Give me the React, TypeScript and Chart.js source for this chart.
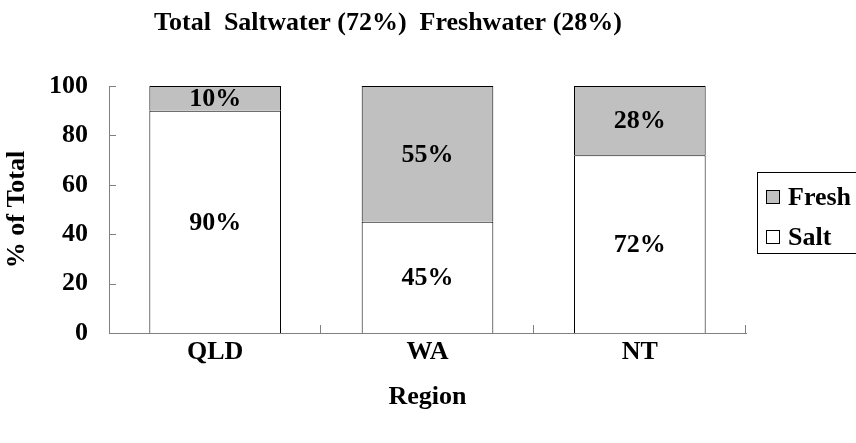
import React, { useEffect, useRef } from "react";
import { Chart, registerables } from "chart.js";

Chart.register(...registerables);

const categories = ["QLD", "WA", "NT"];
const saltValues = [90, 45, 72];
const freshValues = [10, 55, 28];
const yTickValues = [0, 20, 40, 60, 80, 100];
const titleText = "Total  Saltwater (72%)  Freshwater (28%)";
const yAxisTitle = "% of Total";
const xAxisTitle = "Region";
const saltName = "Salt";
const freshName = "Fresh";

const FONT = "'Liberation Serif', 'Times New Roman', serif";
const AXIS_GRAY = "#808080";

const overlayPlugin = {
  id: "overlay",
  afterDatasetsDraw(chart: any) {
    const { ctx, chartArea, scales } = chart;
    const xs = scales.x;
    const ys = scales.y;
    ctx.save();
    // inward tick marks
    ctx.strokeStyle = AXIS_GRAY;
    ctx.lineWidth = 1;
    yTickValues.forEach((v) => {
      const y = Math.round(ys.getPixelForValue(v)) + 0.5;
      ctx.beginPath();
      ctx.moveTo(chartArea.left, y);
      ctx.lineTo(chartArea.left + 7, y);
      ctx.stroke();
    });
    categories.forEach((_, i) => {
      const x = Math.round(xs.getPixelForValue(i + 0.5)) - 0.5;
      ctx.beginPath();
      ctx.moveTo(x, chartArea.bottom);
      ctx.lineTo(x, chartArea.bottom - 8);
      ctx.stroke();
    });
    // data labels
    ctx.fillStyle = "#000";
    ctx.font = `bold 26px ${FONT}`;
    ctx.textAlign = "center";
    ctx.textBaseline = "middle";
    chart.data.datasets.forEach((ds: any, di: number) => {
      const meta = chart.getDatasetMeta(di);
      meta.data.forEach((el: any, i: number) => {
        const yMid = (el.y + el.base) / 2;
        ctx.fillText(`${ds.data[i]}%`, el.x, yMid + 1);
      });
    });
    // title
    ctx.fillText(titleText, 388, 23);
    // legend
    ctx.strokeStyle = "#000";
    ctx.strokeRect(757.5, 172.5, 120, 81);
    const items = [
      { name: freshName, color: "#C0C0C0", y: 197 },
      { name: saltName, color: "#FFFFFF", y: 237 },
    ];
    ctx.textAlign = "left";
    items.forEach((it) => {
      ctx.fillStyle = it.color;
      ctx.fillRect(766.5, it.y - 6.5, 13, 13);
      ctx.strokeStyle = "#000";
      ctx.strokeRect(766.5, it.y - 6.5, 13, 13);
      ctx.fillStyle = "#000";
      ctx.fillText(it.name, 788, it.y + 1);
    });
    ctx.restore();
  },
};

export default function App() {
  const canvasRef = useRef<HTMLCanvasElement | null>(null);

  useEffect(() => {
    const canvas = canvasRef.current;
    if (!canvas) return;
    const chart = new Chart(canvas, {
      type: "bar",
      data: {
        labels: categories,
        datasets: [
          {
            label: saltName,
            data: saltValues,
            backgroundColor: "#FFFFFF",
            borderColor: "#000000",
            borderWidth: 1,
            stack: "s",
          },
          {
            label: freshName,
            data: freshValues,
            backgroundColor: "#C0C0C0",
            borderColor: "#000000",
            borderWidth: 1,
            stack: "s",
          },
        ],
      },
      options: {
        responsive: false,
        animation: false,
        events: [],
        datasets: { bar: { barPercentage: 0.62, categoryPercentage: 1 } },
        layout: { padding: { left: 0, right: 110, top: 86, bottom: 0 } },
        plugins: {
          legend: { display: false },
          title: { display: false },
          tooltip: { enabled: false },
        },
        scales: {
          x: {
            stacked: true,
            grid: { display: false, drawTicks: false },
            border: { display: true, color: AXIS_GRAY, width: 1 },
            ticks: {
              color: "#000",
              font: { family: FONT, size: 26, weight: "bold" },
              padding: 4,
            },
            title: {
              display: true,
              text: xAxisTitle,
              color: "#000",
              font: { family: FONT, size: 26, weight: "bold" },
              padding: { top: 0, bottom: 30 },
            },
            afterFit: (scale: any) => {
              scale.height = 110;
            },
          },
          y: {
            stacked: true,
            min: 0,
            max: 100,
            grid: { display: false, drawTicks: false },
            border: { display: true, color: AXIS_GRAY, width: 1 },
            ticks: {
              stepSize: 20,
              color: "#000",
              font: { family: FONT, size: 26, weight: "bold" },
              padding: 21,
            },
            title: {
              display: true,
              text: yAxisTitle,
              color: "#000",
              font: { family: FONT, size: 26, weight: "bold" },
              padding: { top: 2, bottom: 0 },
            },
            afterFit: (scale: any) => {
              scale.width = 109;
            },
          },
        },
      },
      plugins: [overlayPlugin],
    });
    return () => chart.destroy();
  }, []);

  return (
    <div style={{ position: "fixed", left: 0, top: 0, width: 856, height: 443, background: "#fff" }}>
      <canvas ref={canvasRef} width={856} height={443} style={{ width: 856, height: 443, display: "block" }} />
    </div>
  );
}
